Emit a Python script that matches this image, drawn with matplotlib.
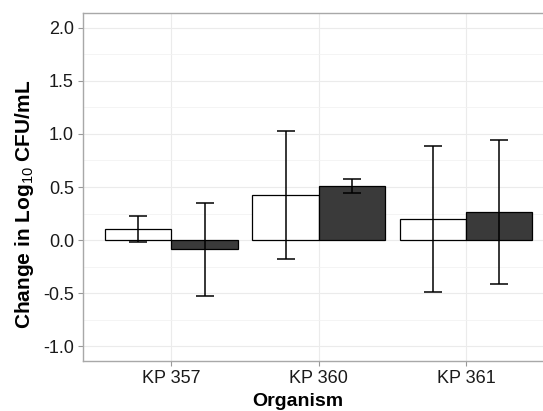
import numpy as np
import matplotlib
matplotlib.use('Agg')
import matplotlib.pyplot as plt
from matplotlib.ticker import MultipleLocator

plt.rcParams['font.family'] = ['Liberation Sans', 'DejaVu Sans']
plt.rcParams['mathtext.fontset'] = 'custom'
plt.rcParams['mathtext.rm'] = 'Liberation Sans'
plt.rcParams['mathtext.it'] = 'Liberation Sans:italic'
plt.rcParams['mathtext.bf'] = 'Liberation Sans:bold'

# data
organisms = ['KP 357', 'KP 360', 'KP 361']
white_mean = [0.10, 0.42, 0.20]
white_lo = [-0.02, -0.18, -0.49]
white_hi = [0.23, 1.03, 0.89]
dark_mean = [-0.085, 0.51, 0.26]
dark_lo = [-0.525, 0.44, -0.41]
dark_hi = [0.35, 0.58, 0.94]

x = np.arange(1, len(organisms) + 1)
w = 0.45

fig = plt.figure(figsize=(5.43, 4.11), dpi=100)
ax = fig.add_axes([83 / 543, 50 / 411, (554.5 - 83) / 543, 348 / 411])

ax.set_axisbelow(True)
ax.grid(which='major', color='#ebebeb', lw=0.8)
ax.yaxis.set_minor_locator(MultipleLocator(0.25))
ax.grid(which='minor', axis='y', color='#f2f2f2', lw=0.6)

ax.bar(x - w / 2, white_mean, width=w, color='white', edgecolor='black', lw=0.9)
ax.bar(x + w / 2, dark_mean, width=w, color='#3a3a3a', edgecolor='black', lw=0.9)

wm, dm = np.array(white_mean), np.array(dark_mean)
ax.errorbar(x - w / 2, wm, yerr=[wm - np.array(white_lo), np.array(white_hi) - wm],
            fmt='none', ecolor='black', elinewidth=1.1, capsize=6.5, capthick=1.1)
ax.errorbar(x + w / 2, dm, yerr=[dm - np.array(dark_lo), np.array(dark_hi) - dm],
            fmt='none', ecolor='black', elinewidth=1.1, capsize=6.5, capthick=1.1)

ax.set_xlim(0.4, 3.6)
ax.set_ylim(-1.14, 2.14)
ax.set_xticks(x)
ax.set_xticklabels(organisms)
ax.set_yticks([-1.0, -0.5, 0.0, 0.5, 1.0, 1.5, 2.0])
ax.set_yticklabels(['-1.0', '-0.5', '0.0', '0.5', '1.0', '1.5', '2.0'])
ax.tick_params(which='major', labelsize=13, labelcolor='#1a1a1a', color='#999999',
               length=3.5, width=0.8, pad=3)
ax.tick_params(which='minor', length=0)

for s in ['left', 'bottom', 'top', 'right']:
    ax.spines[s].set_color('#a8a8a8')
    ax.spines[s].set_linewidth(1.0)

ax.set_xlabel('Organism', fontsize=14, fontweight='bold')
ax.xaxis.set_label_coords((298 - 83) / (554.5 - 83), -0.093)
ax.set_ylabel(r'Change in Log$_{10}$ CFU/mL', fontsize=15, fontweight='bold')
ax.yaxis.set_label_coords(-0.10, 0.45)

fig.savefig('out.png', dpi=100)
